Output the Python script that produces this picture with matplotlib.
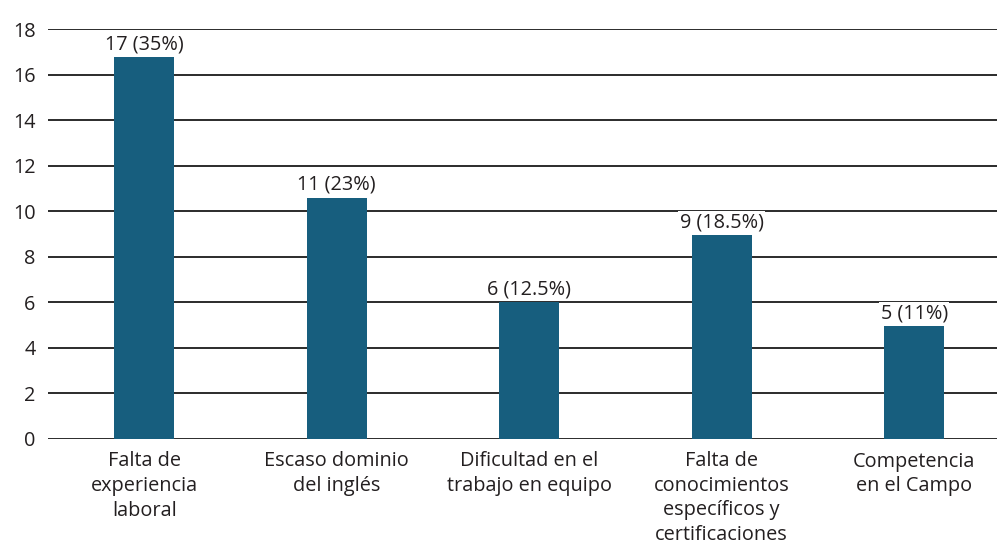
import matplotlib
matplotlib.use("Agg")
import matplotlib.pyplot as plt

categories = ["Falta de\nexperiencia\nlaboral", "Escaso dominio\ndel inglés",
              "Dificultad en el\ntrabajo en equipo",
              "Falta de\nconocimientos\nespecíficos y\ncertificaciones",
              "Competencia\nen el Campo"]
values = [16.75, 10.6, 6.0, 8.95, 4.95]
labels = ["17 (35%)", "11 (23%)", "6 (12.5%)", "9 (18.5%)", "5 (11%)"]
yticks = [0, 2, 4, 6, 8, 10, 12, 14, 16, 18]

plt.rcParams['font.family'] = ['Open Sans', 'DejaVu Sans']

fig = plt.figure(figsize=(9.97, 5.51), dpi=100)
ax = fig.add_axes([48/997, 1-439/551, 1-48/997, 410/551])

x = range(len(categories))
ax.set_axisbelow(True)
ax.yaxis.grid(True, color='#1a1a1a', linewidth=1.3)
ax.bar(x, values, width=0.31, color='#175e7e', zorder=2)
for xi, v, lab in zip(x, values, labels):
    ax.text(xi, v + 0.12, lab, ha='center', va='bottom', fontsize=14.3,
            color='#231f20', zorder=3,
            bbox=dict(facecolor='white', edgecolor='none', pad=1.0))

ax.set_xlim(-0.5, 4.43)
ax.set_ylim(0, 18)
ax.set_yticks(yticks)
ax.set_xticks(list(x))
ax.set_xticklabels(categories, fontsize=14.3, color='#231f20', linespacing=1.3)
ax.tick_params(axis='y', labelsize=14.3, labelcolor='#231f20', length=0, pad=9)
ax.tick_params(axis='x', length=0, pad=9)
for s in ax.spines.values():
    s.set_visible(False)

fig.savefig("out.png", dpi=100)
